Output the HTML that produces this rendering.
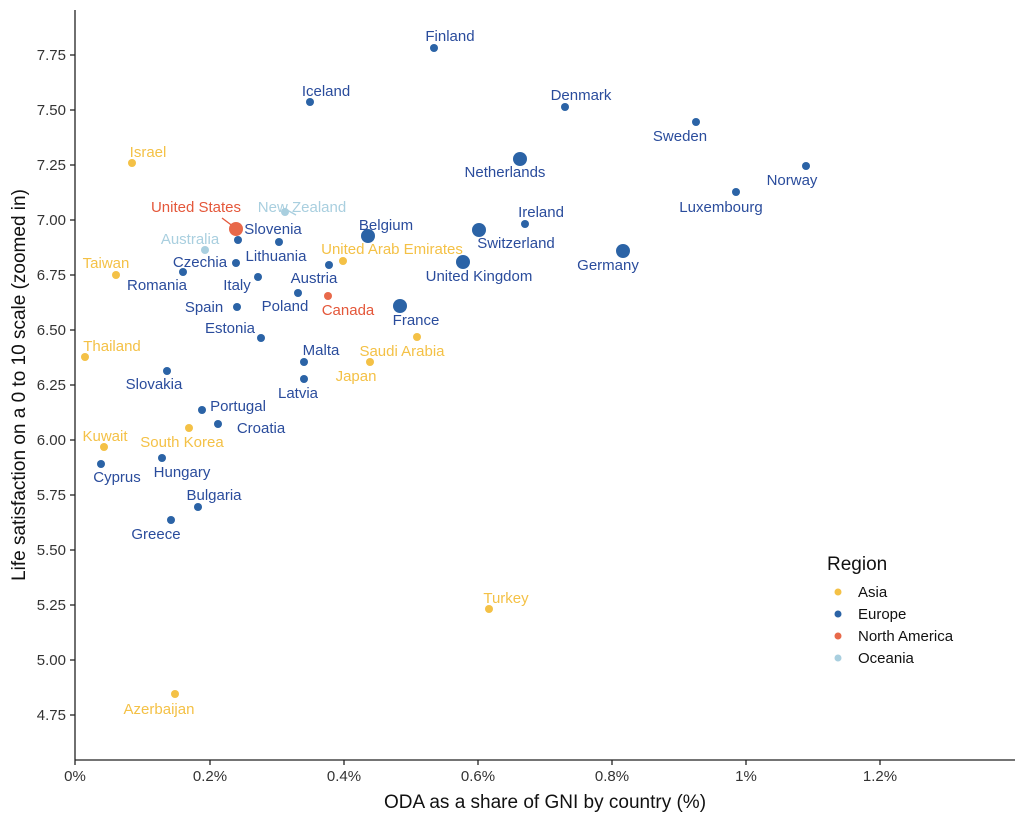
<!DOCTYPE html>
<html><head><meta charset="utf-8"><style>
body{margin:0;background:#fff}
svg text{font-family:"Liberation Sans",sans-serif}
.e{fill:#2A4C9C}.a{fill:#F4C146}.n{fill:#E4573A}.o{fill:#A9CFDF}
</style></head><body>
<svg width="1024" height="819" viewBox="0 0 1024 819" xmlns="http://www.w3.org/2000/svg">
<rect width="1024" height="819" fill="#fff"/>
<g stroke="#222" stroke-width="1.3">
<line x1="75" y1="10" x2="75" y2="760"/>
<line x1="75" y1="760" x2="1015" y2="760"/>
<line x1="70" y1="55" x2="75" y2="55"/><line x1="70" y1="110" x2="75" y2="110"/><line x1="70" y1="165" x2="75" y2="165"/><line x1="70" y1="220" x2="75" y2="220"/><line x1="70" y1="275" x2="75" y2="275"/><line x1="70" y1="330" x2="75" y2="330"/><line x1="70" y1="385" x2="75" y2="385"/><line x1="70" y1="440" x2="75" y2="440"/><line x1="70" y1="495" x2="75" y2="495"/><line x1="70" y1="550" x2="75" y2="550"/><line x1="70" y1="605" x2="75" y2="605"/><line x1="70" y1="660" x2="75" y2="660"/><line x1="70" y1="715" x2="75" y2="715"/>
<line x1="75" y1="760" x2="75" y2="765"/><line x1="210" y1="760" x2="210" y2="765"/><line x1="344" y1="760" x2="344" y2="765"/><line x1="478" y1="760" x2="478" y2="765"/><line x1="612" y1="760" x2="612" y2="765"/><line x1="746" y1="760" x2="746" y2="765"/><line x1="880" y1="760" x2="880" y2="765"/>
</g>
<g font-size="15" fill="#333" text-anchor="end">
<text x="66" y="60">7.75</text><text x="66" y="115">7.50</text><text x="66" y="170">7.25</text><text x="66" y="225">7.00</text><text x="66" y="280">6.75</text><text x="66" y="335">6.50</text><text x="66" y="390">6.25</text><text x="66" y="445">6.00</text><text x="66" y="500">5.75</text><text x="66" y="555">5.50</text><text x="66" y="610">5.25</text><text x="66" y="665">5.00</text><text x="66" y="720">4.75</text>
</g>
<g font-size="15" fill="#333" text-anchor="middle">
<text x="75" y="781">0%</text><text x="210" y="781">0.2%</text><text x="344" y="781">0.4%</text><text x="478" y="781">0.6%</text><text x="612" y="781">0.8%</text><text x="746" y="781">1%</text><text x="880" y="781">1.2%</text>
</g>
<text x="545" y="808" font-size="19" text-anchor="middle" fill="#111">ODA as a share of GNI by country (%)</text>
<text transform="translate(25,385) rotate(-90)" font-size="19" text-anchor="middle" fill="#111">Life satisfaction on a 0 to 10 scale (zoomed in)</text>
<line x1="222" y1="218" x2="234" y2="227" stroke="#E4573A" stroke-width="1.3"/>
<line x1="296" y1="215" x2="287" y2="210" stroke="#A9CFDF" stroke-width="1.3"/>
<g fill="#2B63A6">
<circle cx="434" cy="48" r="4"/><circle cx="310" cy="102" r="4"/><circle cx="565" cy="107" r="4"/><circle cx="696" cy="122" r="4"/>
<circle cx="520" cy="159" r="7"/><circle cx="806" cy="166" r="4"/><circle cx="736" cy="192" r="4"/><circle cx="368" cy="236" r="7"/>
<circle cx="525" cy="224" r="4"/><circle cx="479" cy="230" r="7"/><circle cx="238" cy="240" r="4"/><circle cx="279" cy="242" r="4"/>
<circle cx="236" cy="263" r="4"/><circle cx="183" cy="272" r="4"/><circle cx="463" cy="262" r="7"/><circle cx="623" cy="251" r="7"/>
<circle cx="258" cy="277" r="4"/><circle cx="329" cy="265" r="4"/><circle cx="298" cy="293" r="4"/><circle cx="400" cy="306" r="7"/>
<circle cx="237" cy="307" r="4"/><circle cx="261" cy="338" r="4"/><circle cx="304" cy="362" r="4"/><circle cx="167" cy="371" r="4"/>
<circle cx="304" cy="379" r="4"/><circle cx="202" cy="410" r="4"/><circle cx="218" cy="424" r="4"/><circle cx="162" cy="458" r="4"/>
<circle cx="101" cy="464" r="4"/><circle cx="198" cy="507" r="4"/><circle cx="171" cy="520" r="4"/>
</g>
<g fill="#F4C146">
<circle cx="132" cy="163" r="4"/><circle cx="343" cy="261" r="4"/><circle cx="116" cy="275" r="4"/><circle cx="85" cy="357" r="4"/>
<circle cx="417" cy="337" r="4"/><circle cx="370" cy="362" r="4"/><circle cx="189" cy="428" r="4"/><circle cx="104" cy="447" r="4"/>
<circle cx="489" cy="609" r="4"/><circle cx="175" cy="694" r="4"/>
</g>
<circle cx="236" cy="229" r="7" fill="#E8694A"/><circle cx="328" cy="296" r="4" fill="#E8694A"/>
<circle cx="285" cy="212" r="4" fill="#A9CFDF"/><circle cx="205" cy="250" r="4" fill="#A9CFDF"/>
<g font-size="15" text-anchor="middle">
<text class="e" x="450" y="41">Finland</text><text class="e" x="326" y="96">Iceland</text><text class="e" x="581" y="100">Denmark</text>
<text class="e" x="680" y="141">Sweden</text><text class="a" x="148" y="157">Israel</text><text class="e" x="505" y="177">Netherlands</text>
<text class="e" x="792" y="185">Norway</text><text class="e" x="721" y="212">Luxembourg</text><text class="n" x="196" y="212">United States</text>
<text class="o" x="302" y="212">New Zealand</text><text class="e" x="386" y="230">Belgium</text><text class="e" x="541" y="217">Ireland</text>
<text class="e" x="516" y="248">Switzerland</text><text class="e" x="273" y="234">Slovenia</text><text class="o" x="190" y="244">Australia</text>
<text class="e" x="276" y="261">Lithuania</text><text class="a" x="392" y="254">United Arab Emirates</text><text class="e" x="200" y="267">Czechia</text>
<text class="a" x="106" y="268">Taiwan</text><text class="e" x="157" y="290">Romania</text><text class="e" x="479" y="281">United Kingdom</text>
<text class="e" x="608" y="270">Germany</text><text class="e" x="237" y="290">Italy</text><text class="e" x="314" y="283">Austria</text>
<text class="e" x="285" y="311">Poland</text><text class="n" x="348" y="315">Canada</text><text class="e" x="416" y="325">France</text>
<text class="e" x="204" y="312">Spain</text><text class="e" x="230" y="333">Estonia</text><text class="a" x="112" y="351">Thailand</text>
<text class="a" x="402" y="356">Saudi Arabia</text><text class="e" x="321" y="355">Malta</text><text class="e" x="154" y="389">Slovakia</text>
<text class="a" x="356" y="381">Japan</text><text class="e" x="298" y="398">Latvia</text><text class="e" x="238" y="411">Portugal</text>
<text class="e" x="261" y="433">Croatia</text><text class="a" x="182" y="447">South Korea</text><text class="a" x="105" y="441">Kuwait</text>
<text class="e" x="182" y="477">Hungary</text><text class="e" x="117" y="482">Cyprus</text><text class="e" x="214" y="500">Bulgaria</text>
<text class="e" x="156" y="539">Greece</text><text class="a" x="506" y="603">Turkey</text><text class="a" x="159" y="714">Azerbaijan</text>
</g>
<text x="827" y="570" font-size="19" fill="#111">Region</text>
<circle cx="838" cy="592" r="3.5" fill="#F4C146"/><text x="858" y="597" font-size="15" fill="#111">Asia</text>
<circle cx="838" cy="614" r="3.5" fill="#2B63A6"/><text x="858" y="619" font-size="15" fill="#111">Europe</text>
<circle cx="838" cy="636" r="3.5" fill="#E8694A"/><text x="858" y="641" font-size="15" fill="#111">North America</text>
<circle cx="838" cy="658" r="3.5" fill="#A9CFDF"/><text x="858" y="663" font-size="15" fill="#111">Oceania</text>
</svg>
</body></html>
